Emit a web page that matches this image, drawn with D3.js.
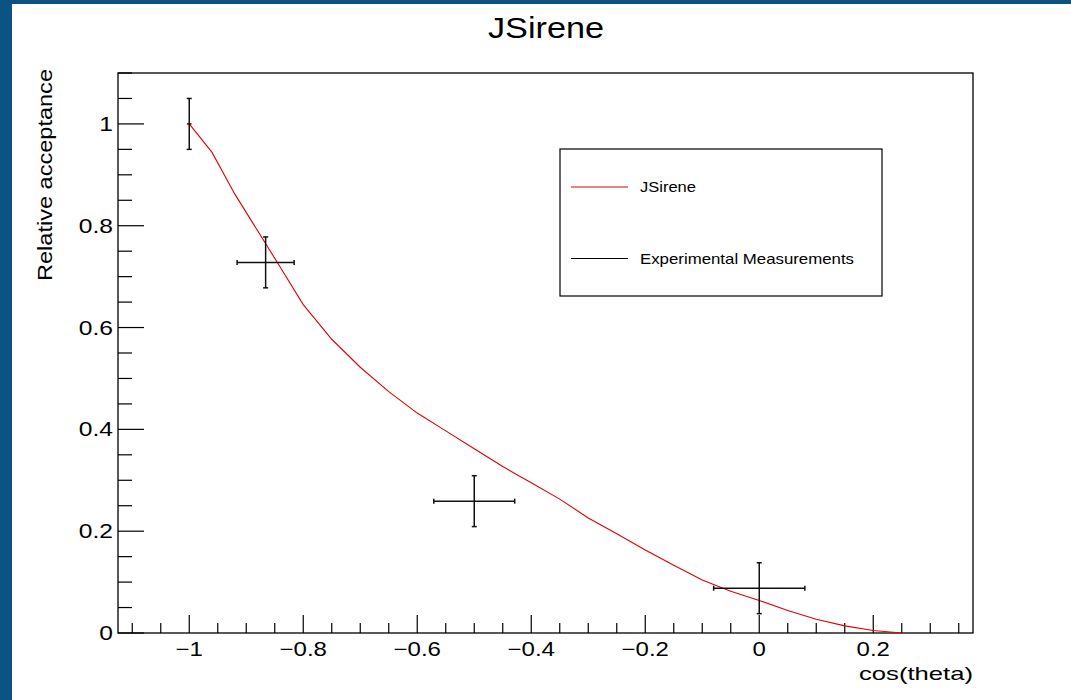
<!DOCTYPE html>
<html>
<head>
<meta charset="utf-8">
<script src="https://cdn.jsdelivr.net/npm/d3@7"></script>
<style>
  html, body { margin: 0; padding: 0; background: #0b5383; }
  svg { display: block; }
  text { font-family: "Liberation Sans", Arial, Helvetica, sans-serif; fill: #000; }
</style>
</head>
<body>
<svg id="chart" width="1071" height="700"></svg>
<script>
// Simulated relative acceptance (JSirene) versus cos(theta)
const simCos = [-1.0, -0.96, -0.92, -0.88, -0.84, -0.80, -0.75, -0.70, -0.65, -0.60,
                -0.55, -0.50, -0.45, -0.40, -0.35, -0.30, -0.25, -0.20, -0.15, -0.10,
                -0.05, 0.0, 0.05, 0.10, 0.15, 0.20, 0.25];
const simAcc = [1.0, 0.944, 0.862, 0.790, 0.718, 0.645, 0.577, 0.522, 0.474, 0.432,
                0.397, 0.362, 0.327, 0.295, 0.263, 0.226, 0.195, 0.163, 0.133, 0.104,
                0.082, 0.064, 0.044, 0.027, 0.014, 0.005, 0.0];

// Experimental measurements with errors
const expCos = [-1.0, -0.866, -0.5, 0.0];
const expAcc = [1.0, 0.728, 0.259, 0.088];
const expCosErr = [0.004, 0.05, 0.071, 0.08];
const expAccErr = [0.05, 0.05, 0.05, 0.05];

// Axis ticks
const xMajor = [-1, -0.8, -0.6, -0.4, -0.2, 0, 0.2];
const yMajor = [0, 0.2, 0.4, 0.6, 0.8, 1];
const xDomain = [-1.125, 0.375];
const yDomain = [0, 1.1];

const titleText = "JSirene";
const xTitle = "cos(theta)";
const yTitle = "Relative acceptance";
const legendLabels = ["JSirene", "Experimental Measurements"];
const legendColors = ["#e00000", "#000000"];

const svg = d3.select("#chart");
const W = 1071, H = 700;

// pad background (white canvas inside the blue window border)
svg.append("rect").attr("x", 0).attr("y", 0).attr("width", W).attr("height", H).attr("fill", "#0b5383");
svg.append("rect").attr("x", 12).attr("y", 4).attr("width", W - 12).attr("height", H - 4).attr("fill", "#ffffff");

const frame = { left: 118, top: 73, right: 973, bottom: 633 };

const x = d3.scaleLinear().domain(xDomain).range([frame.left, frame.right]);
const y = d3.scaleLinear().domain(yDomain).range([frame.bottom, frame.top]);

const fmt = d => d3.format("")(d).replace("-", "\u2212");
const wide = 1.2; // horizontal glyph stretch of the labels

// minor ticks every 0.05
const xMinor = d3.range(-1.1, 0.3751, 0.05).map(v => +v.toFixed(2)).filter(v => !xMajor.some(m => Math.abs(m - v) < 1e-6));
const yMinor = d3.range(0.05, 1.1001, 0.05).map(v => +v.toFixed(2)).filter(v => !yMajor.some(m => Math.abs(m - v) < 1e-6));

const axes = svg.append("g").attr("stroke", "#000");

// x ticks (inward, pointing up)
axes.selectAll("line.xmaj").data(xMajor).join("line")
  .attr("class", "xmaj")
  .attr("x1", d => x(d)).attr("x2", d => x(d))
  .attr("y1", frame.bottom).attr("y2", frame.bottom - 18).attr("stroke-width", 1.2);
axes.selectAll("line.xmin").data(xMinor).join("line")
  .attr("class", "xmin")
  .attr("x1", d => x(d)).attr("x2", d => x(d))
  .attr("y1", frame.bottom).attr("y2", frame.bottom - 10).attr("stroke-width", 1.2);

// y ticks (inward, pointing right)
axes.selectAll("line.ymaj").data(yMajor).join("line")
  .attr("class", "ymaj")
  .attr("y1", d => y(d)).attr("y2", d => y(d))
  .attr("x1", frame.left).attr("x2", frame.left + 26).attr("stroke-width", 1.2);
axes.selectAll("line.ymin").data(yMinor).join("line")
  .attr("class", "ymin")
  .attr("y1", d => y(d)).attr("y2", d => y(d))
  .attr("x1", frame.left).attr("x2", frame.left + 14).attr("stroke-width", 1.2);

// frame
svg.append("rect")
  .attr("x", frame.left).attr("y", frame.top)
  .attr("width", frame.right - frame.left).attr("height", frame.bottom - frame.top)
  .attr("fill", "none").attr("stroke", "#000").attr("stroke-width", 1.3);

// tick labels
svg.selectAll("text.xl").data(xMajor).join("text")
  .attr("class", "xl")
  .attr("transform", d => `translate(${x(d)},656) scale(${wide},1)`)
  .attr("text-anchor", "middle").attr("font-size", 20)
  .text(fmt);
svg.selectAll("text.yl").data(yMajor).join("text")
  .attr("class", "yl")
  .attr("transform", d => `translate(113,${y(d) + 7}) scale(${wide},1)`)
  .attr("text-anchor", "end").attr("font-size", 20.5)
  .text(fmt);

// axis titles
svg.append("text")
  .attr("x", 973).attr("y", 680)
  .attr("text-anchor", "end").attr("font-size", 19)
  .attr("textLength", 114).attr("lengthAdjust", "spacingAndGlyphs")
  .text(xTitle);
svg.append("text")
  .attr("transform", "translate(52,69) rotate(-90)")
  .attr("text-anchor", "end").attr("font-size", 21)
  .attr("textLength", 212).attr("lengthAdjust", "spacingAndGlyphs")
  .text(yTitle);

// title
svg.append("text")
  .attr("x", 546).attr("y", 38)
  .attr("text-anchor", "middle").attr("font-size", 29)
  .attr("textLength", 116).attr("lengthAdjust", "spacingAndGlyphs")
  .text(titleText);

// simulation curve
const simData = simCos.map((c, i) => [c, simAcc[i]]);
svg.append("path")
  .datum(simData)
  .attr("d", d3.line().x(d => x(d[0])).y(d => y(d[1])))
  .attr("fill", "none").attr("stroke", legendColors[0]).attr("stroke-width", 1.1);

// experimental points with error bars
const expData = expCos.map((c, i) => ({ c, a: expAcc[i], ec: expCosErr[i], ea: expAccErr[i] }));
const eb = svg.append("g").attr("stroke", "#111").attr("stroke-width", 1.5).attr("fill", "none");
const cap = 2.5;
expData.forEach(d => {
  const cx = x(d.c), cy = y(d.a);
  const xl = x(d.c - d.ec), xr = x(d.c + d.ec);
  const yt = y(d.a + d.ea), yb = y(d.a - d.ea);
  eb.append("line").attr("x1", xl).attr("x2", xr).attr("y1", cy).attr("y2", cy);
  eb.append("line").attr("x1", cx).attr("x2", cx).attr("y1", yt).attr("y2", yb);
  eb.append("line").attr("x1", cx - cap).attr("x2", cx + cap).attr("y1", yt).attr("y2", yt);
  eb.append("line").attr("x1", cx - cap).attr("x2", cx + cap).attr("y1", yb).attr("y2", yb);
  if (xr - xl > 2 * cap) {
    eb.append("line").attr("x1", xl).attr("x2", xl).attr("y1", cy - cap).attr("y2", cy + cap);
    eb.append("line").attr("x1", xr).attr("x2", xr).attr("y1", cy - cap).attr("y2", cy + cap);
  }
});

// legend
const leg = { x: 560, y: 149, w: 322, h: 147 };
svg.append("rect")
  .attr("x", leg.x).attr("y", leg.y).attr("width", leg.w).attr("height", leg.h)
  .attr("fill", "#fff").attr("stroke", "#000").attr("stroke-width", 1.2);
const legRowsY = [187, 258.5];
const legTextLen = [56, 214];
legendLabels.forEach((lab, i) => {
  svg.append("line")
    .attr("x1", 571).attr("x2", 628).attr("y1", legRowsY[i]).attr("y2", legRowsY[i])
    .attr("stroke", legendColors[i]).attr("stroke-width", 1.1);
  svg.append("text")
    .attr("x", 640).attr("y", legRowsY[i] + 5.3)
    .attr("font-size", 14.5)
    .attr("textLength", legTextLen[i]).attr("lengthAdjust", "spacingAndGlyphs")
    .text(lab);
});
</script>
</body>
</html>
